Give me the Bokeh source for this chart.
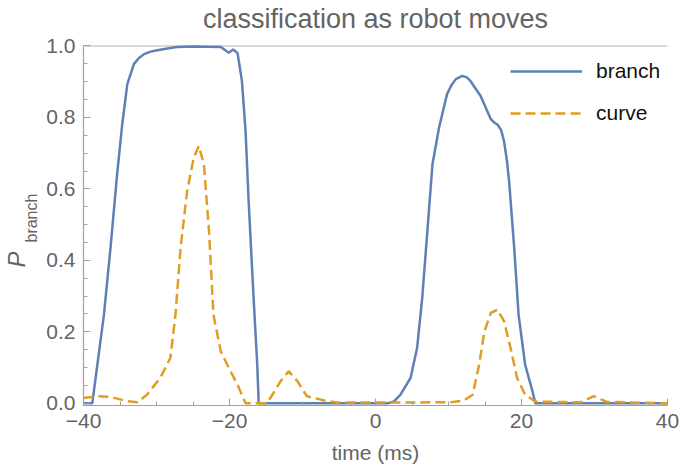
from bokeh.embed import file_html
from bokeh.models import (ColumnDataSource, FixedTicker, Label, Legend,
                          LegendItem, Range1d, Span, Title)
from bokeh.plotting import figure
from bokeh.resources import INLINE

# ---- data -------------------------------------------------------------
t_branch = [-40.0, -38.8, -38.1, -37.2, -36.3, -35.4, -34.7, -34.0, -33.1,
            -32.4, -31.7, -30.8, -29.9, -28.5, -27.2, -24.9, -21.2, -20.1,
            -19.5, -18.9, -18.3, -17.8, -17.4, -16.7, -16.2, -16.0,
            0.0, 1.6, 2.5, 3.4, 4.8, 5.7, 6.4, 7.1, 7.8, 8.7, 9.8, 10.4,
            11.0, 11.9, 12.5, 13.0, 14.4, 15.8, 16.3, 16.7, 17.2, 17.6,
            18.0, 18.3, 19.0, 19.6, 20.5, 21.5, 21.9, 40.0]
p_branch = [0.0, 0.0, 0.108, 0.248, 0.435, 0.640, 0.780, 0.893, 0.949,
            0.966, 0.977, 0.984, 0.988, 0.993, 0.997, 0.998, 0.997, 0.981,
            0.990, 0.980, 0.902, 0.762, 0.575, 0.295, 0.109, 0.0,
            0.0, 0.0, 0.005, 0.024, 0.071, 0.155, 0.295, 0.480, 0.668,
            0.771, 0.865, 0.890, 0.907, 0.916, 0.912, 0.902, 0.860, 0.795,
            0.785, 0.780, 0.765, 0.734, 0.680, 0.622, 0.435, 0.248, 0.108,
            0.034, 0.0, 0.0]

t_curve = [-40.0, -38.1, -36.3, -34.0, -32.6, -31.3, -29.5, -28.1, -27.4,
           -26.7, -25.8, -24.9, -24.2, -23.5, -22.8, -22.2, -21.2, -20.1,
           -18.9, -17.8, -15.0, -14.4, -13.0, -11.9, -10.7, -9.4, -7.0,
           -5.0, 10.3, 12.1, 13.3, 14.2, 14.9, 15.8, 16.7, 17.6, 18.5,
           19.4, 20.5, 21.9, 28.1, 29.9, 31.7, 40.0]
p_curve = [0.015, 0.020, 0.018, 0.006, 0.003, 0.024, 0.071, 0.127, 0.248,
           0.435, 0.594, 0.687, 0.720, 0.668, 0.480, 0.248, 0.146, 0.099,
           0.052, 0.0, 0.0, 0.015, 0.062, 0.090, 0.062, 0.020, 0.008,
           0.002, 0.003, 0.008, 0.024, 0.108, 0.200, 0.253, 0.262, 0.230,
           0.155, 0.071, 0.024, 0.005, 0.003, 0.020, 0.004, 0.0]

x_ticks = [-40, -20, 0, 20, 40]
x_tick_labels = ["\u221240", "\u221220", "0", "20", "40"]
y_ticks = [0.0, 0.2, 0.4, 0.6, 0.8, 1.0]
y_tick_labels = ["0.0", "0.2", "0.4", "0.6", "0.8", "1.0"]

series_names = ["branch", "curve"]
title_text = "classification as robot moves"
x_label = "time (ms)"
y_label_main = "P"
y_label_sub = "branch"

# ---- style ------------------------------------------------------------
FONT = "Liberation Sans"
GREY_TEXT = "#646464"
GREY_AXIS = "#a0a0a0"
BLUE = "#5E81B5"
ORANGE = "#E19C24"

# The frame runs to the top edge; the headroom above P = 1 holds the title.
Y_TOP = 1.127
p = figure(width=680, height=469, output_backend="svg", toolbar_location=None,
           title=None, title_location=None,
           x_range=Range1d(-40, 40), y_range=Range1d(-0.006, Y_TOP),
           min_border_left=83, min_border_right=13,
           min_border_top=0, min_border_bottom=64,
           background_fill_color="white", border_fill_color="white")
p.outline_line_color = None
p.grid.visible = False

# axes
for ax in (p.xaxis[0], p.yaxis[0]):
    ax.axis_line_color = GREY_AXIS
    ax.axis_line_width = 1.2
    ax.major_tick_line_color = GREY_AXIS
    ax.minor_tick_line_color = GREY_AXIS
    ax.major_tick_in = 7
    ax.major_tick_out = 0
    ax.minor_tick_in = 4
    ax.minor_tick_out = 0
    ax.major_label_text_font = FONT
    ax.major_label_text_font_size = "21px"
    ax.major_label_text_color = GREY_TEXT

p.xaxis.ticker = FixedTicker(ticks=x_ticks,
                             minor_ticks=list(range(-40, 41, 5)))
p.xaxis.major_label_overrides = dict(zip(x_ticks, x_tick_labels))
p.xaxis.major_label_standoff = 8
p.xaxis.axis_label = x_label
p.xaxis.axis_label_text_font = FONT
p.xaxis.axis_label_text_font_size = "21px"
p.xaxis.axis_label_text_font_style = "normal"
p.xaxis.axis_label_text_color = GREY_TEXT
p.xaxis.axis_label_standoff = 10

p.yaxis.ticker = FixedTicker(ticks=y_ticks,
                             minor_ticks=[i * 0.05 for i in range(21)])
p.yaxis.major_label_overrides = dict(zip(y_ticks, y_tick_labels))
p.yaxis.major_label_standoff = 8
p.yaxis.bounds = (-0.006, 1.0)

# y label as two rotated titles: a lowered "branch" subscript next to
# the axis and an italic P further out
sub_title = Title(text=y_label_sub, align="left", offset=163,
                  vertical_align="bottom", standoff=8,
                  text_font=FONT, text_font_size="16px",
                  text_font_style="normal", text_color=GREY_TEXT)
main_title = Title(text=y_label_main, align="left", offset=138,
                   vertical_align="bottom", standoff=-27,
                   text_font=FONT, text_font_size="24px",
                   text_font_style="italic", text_color=GREY_TEXT)
p.add_layout(sub_title, "left")
p.add_layout(main_title, "left")

# chart title, centred over the plot in the headroom
p.add_layout(Label(x=0, y=1.0742, text=title_text,
                   text_font=FONT, text_font_size="27px",
                   text_color=GREY_TEXT, text_align="center",
                   text_baseline="alphabetic"))

# reference line at P = 1
p.add_layout(Span(location=1.0, dimension="width", line_color="#cccccc",
                  line_width=1.5, level="underlay"))

# curves
src_b = ColumnDataSource(dict(t=t_branch, p=p_branch))
src_c = ColumnDataSource(dict(t=t_curve, p=p_curve))
r_b = p.line("t", "p", source=src_b, line_color=BLUE, line_width=2.5)
r_c = p.line("t", "p", source=src_c, line_color=ORANGE, line_width=2.5,
             line_dash="10 5")

# legend: location is the lower-left corner of the box, frame pixels
legend = Legend(items=[LegendItem(label=series_names[0], renderers=[r_b]),
                       LegendItem(label=series_names[1], renderers=[r_c])],
                location=(427, 280), orientation="vertical",
                glyph_width=72, glyph_height=24, label_height=24,
                label_standoff=14, spacing=18, padding=0, margin=0,
                border_line_alpha=0, background_fill_alpha=0,
                label_text_font=FONT, label_text_font_size="21px",
                label_text_color="#111111")
p.add_layout(legend)

open("out.html", "w").write(file_html(p, INLINE))
